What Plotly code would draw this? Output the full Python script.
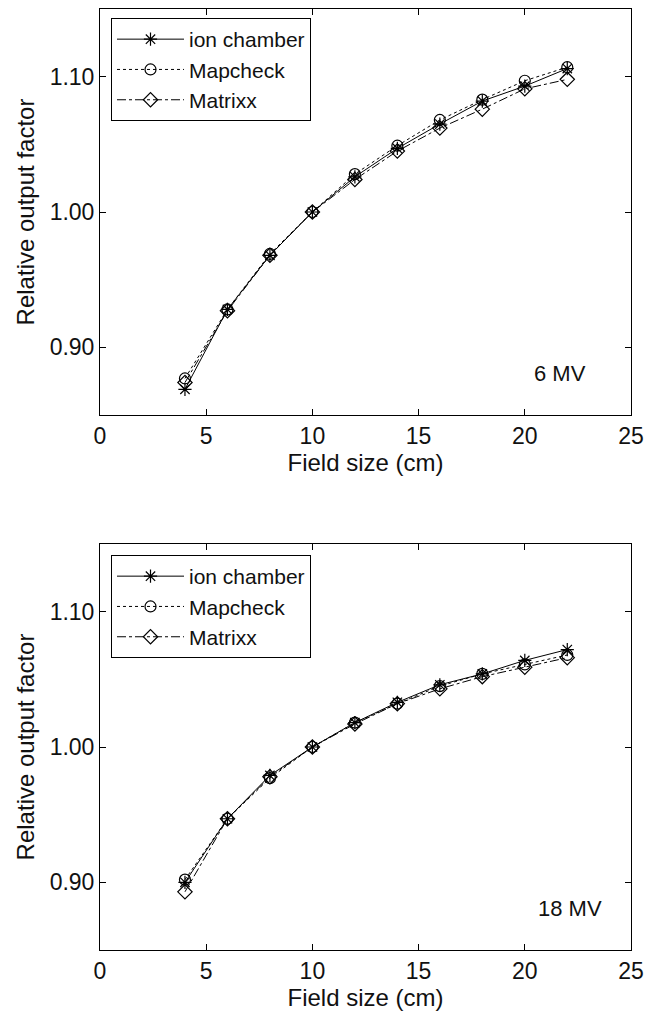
import plotly.graph_objects as go

field_size = [4, 6, 8, 10, 12, 14, 16, 18, 20, 22]

# 6 MV
ion_6mv = [0.869, 0.928, 0.968, 1.000, 1.026, 1.047, 1.065, 1.082, 1.093, 1.106]
mapcheck_6mv = [0.877, 0.928, 0.969, 1.000, 1.028, 1.049, 1.068, 1.083, 1.097, 1.107]
matrixx_6mv = [0.874, 0.927, 0.968, 1.000, 1.024, 1.045, 1.062, 1.076, 1.091, 1.098]

# 18 MV
ion_18mv = [0.900, 0.947, 0.979, 1.000, 1.018, 1.033, 1.046, 1.054, 1.064, 1.072]
mapcheck_18mv = [0.902, 0.947, 0.977, 1.000, 1.018, 1.032, 1.045, 1.054, 1.061, 1.068]
matrixx_18mv = [0.893, 0.947, 0.978, 1.000, 1.017, 1.032, 1.043, 1.052, 1.059, 1.066]

series_names = ["ion chamber", "Mapcheck", "Matrixx"]
x_ticks = [0, 5, 10, 15, 20, 25]
y_ticks = [0.90, 1.00, 1.10]

FONT = "Liberation Sans, Arial, sans-serif"
styles = [
    dict(dash="solid", symbol="asterisk-open"),
    dict(dash="dot", symbol="circle-open"),
    dict(dash="dashdot", symbol="diamond-open"),
]

fig = go.Figure()

panels = [
    ([ion_6mv, mapcheck_6mv, matrixx_6mv], "x", "y", "legend"),
    ([ion_18mv, mapcheck_18mv, matrixx_18mv], "x2", "y2", "legend2"),
]
for data, xa, ya, lg in panels:
    for name, vals, st in zip(series_names, data, styles):
        fig.add_trace(go.Scatter(
            x=field_size, y=vals, name=name, mode="lines+markers",
            xaxis=xa, yaxis=ya, legend=lg,
            line=dict(color="black", width=1, dash=st["dash"]),
            marker=dict(symbol=st["symbol"], size=11, color="black",
                        line=dict(color="black", width=1.2)),
        ))

# figure fills the whole page (body margin removed by post_script)
W, H = 646.0, 1017.0
PL, PR = 100, 631
PW = PR - PL
top_dom = [1 - 415 / H, 1 - 9 / H]
bot_dom = [1 - 950 / H, 1 - 544 / H]

axis_common = dict(
    showline=True, linecolor="black", linewidth=1, mirror="ticks",
    ticks="inside", ticklen=6, tickcolor="black", tickwidth=1,
    showgrid=False, zeroline=False, ticklabeloverflow="allow",
    tickfont=dict(family=FONT, size=23, color="#111"),
)
xcommon = dict(axis_common, range=[0, 25], tickvals=x_ticks,
               title=dict(text="Field size (cm)", font=dict(family=FONT, size=24, color="#111"), standoff=6))
ycommon = dict(axis_common, range=[0.85, 1.15], tickvals=y_ticks, tickformat=".2f",
               title=dict(text="Relative output factor", font=dict(family=FONT, size=24, color="#111"), standoff=8))

legend_common = dict(
    bgcolor="white", bordercolor="black", borderwidth=1,
    font=dict(family=FONT, size=21, color="#111"),
    xanchor="left", yanchor="top", tracegroupgap=0, itemwidth=67,
)

fig.update_layout(
    width=W, height=H,
    margin=dict(l=PL, r=W - PR, t=0, b=0),
    paper_bgcolor="white", plot_bgcolor="white",
    font=dict(family=FONT, size=22, color="#111"),
    xaxis=dict(xcommon, domain=[0, 1], anchor="y"),
    yaxis=dict(ycommon, domain=top_dom, anchor="x"),
    xaxis2=dict(xcommon, domain=[0, 1], anchor="y2"),
    yaxis2=dict(ycommon, domain=bot_dom, anchor="x2"),
    legend=dict(legend_common, x=11 / PW, y=1 - 18 / H),
    legend2=dict(legend_common, x=11 / PW, y=1 - 555 / H),
    annotations=[
        dict(text="6 MV", xref="paper", yref="paper", x=(560 - PL) / PW, y=1 - 373 / H,
             xanchor="center", yanchor="middle",
             showarrow=False, font=dict(family=FONT, size=22, color="#111")),
        dict(text="18 MV", xref="paper", yref="paper", x=(570 - PL) / PW, y=1 - 908 / H,
             xanchor="center", yanchor="middle",
             showarrow=False, font=dict(family=FONT, size=22, color="#111")),
    ],
)

fig.write_html(
    "out.html",
    config={"displayModeBar": False},
    post_script="document.body.style.margin='0';document.body.style.overflow='hidden';",
)
